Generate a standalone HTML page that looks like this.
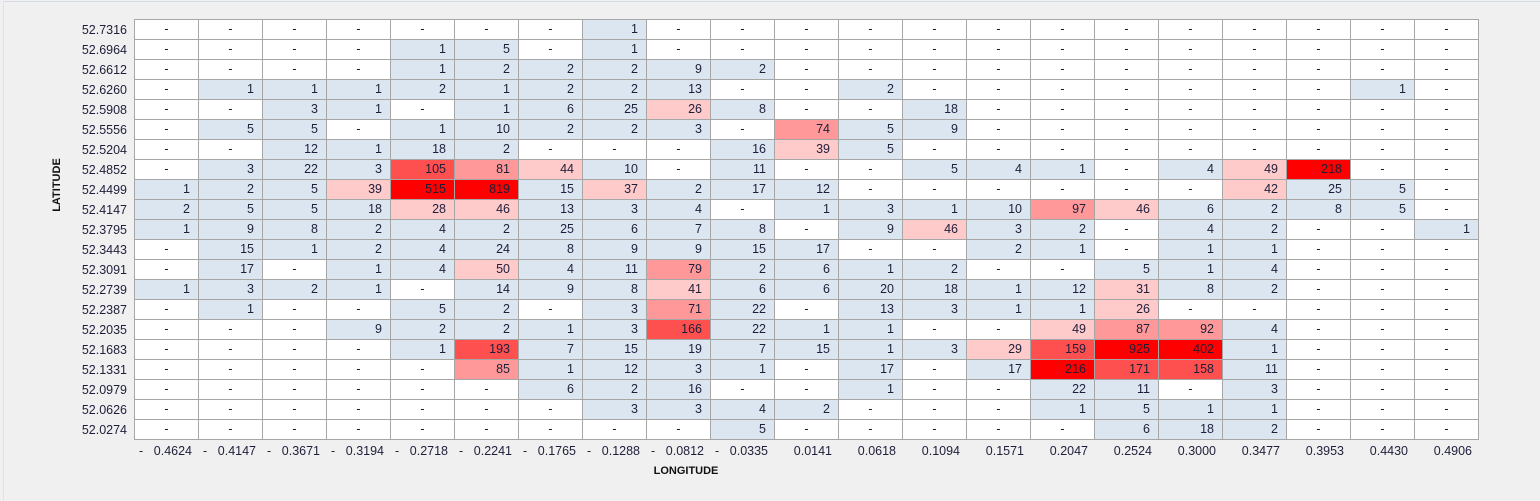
<!DOCTYPE html>
<html><head><meta charset="utf-8"><style>
html,body{margin:0;padding:0;}
body{width:1540px;height:501px;background:#f0f0f0;position:relative;overflow:hidden;font-family:"Liberation Sans",sans-serif;color:#1e1e3a;}
.frame{position:absolute;left:3px;top:1px;right:0;bottom:0;border-left:1px solid #dde2ea;border-top:1px solid #d6dce6;}
table{position:absolute;left:134px;top:19px;border-collapse:collapse;table-layout:fixed;width:1345px;}
td{width:64px;height:20px;border:1px solid #a6a6a6;font-size:12.5px;text-align:right;padding:0 8px 0 0;box-sizing:border-box;background:#fff;line-height:19px;}
td.d{text-align:center;padding:0;}
td.b{background:#dce6f1;}
td.p1{background:#ffcaca;}
td.p2{background:#ff9999;}
td.p3{background:#ff5050;}
td.p4{background:#ff0000;}
.rl{position:absolute;left:0;width:127px;text-align:right;font-size:12.5px;line-height:20px;}
.xl{position:absolute;top:443px;width:64px;font-size:12.5px;line-height:16px;}
.xl .n{position:absolute;right:7px;}
.xl .m{position:absolute;left:4px;}
.yt{position:absolute;left:57px;top:185px;transform:translate(-50%,-50%) rotate(-90deg);font-weight:bold;font-size:11px;color:#111;}
.xt{position:absolute;left:686px;top:471px;transform:translate(-50%,-50%);font-weight:bold;font-size:11px;color:#111;}
</style></head><body><div class="frame"></div>
<div id="rows"></div>
<table id="t"></table>
<div id="xls"></div>
<div class="yt">LATITUDE</div>
<div class="xt">LONGITUDE</div>
<script>
var lat=["52.7316","52.6964","52.6612","52.6260","52.5908","52.5556","52.5204","52.4852","52.4499","52.4147","52.3795","52.3443","52.3091","52.2739","52.2387","52.2035","52.1683","52.1331","52.0979","52.0626","52.0274"];
var lon=["- 0.4624","- 0.4147","- 0.3671","- 0.3194","- 0.2718","- 0.2241","- 0.1765","- 0.1288","- 0.0812","- 0.0335","0.0141","0.0618","0.1094","0.1571","0.2047","0.2524","0.3000","0.3477","0.3953","0.4430","0.4906"];
var D=[
"-,-,-,-,-,-,-,1,-,-,-,-,-,-,-,-,-,-,-,-,-",
"-,-,-,-,1,5,-,1,-,-,-,-,-,-,-,-,-,-,-,-,-",
"-,-,-,-,1,2,2,2,9,2,-,-,-,-,-,-,-,-,-,-,-",
"-,1,1,1,2,1,2,2,13,-,-,2,-,-,-,-,-,-,-,1,-",
"-,-,3,1,-,1,6,25,26,8,-,-,18,-,-,-,-,-,-,-,-",
"-,5,5,-,1,10,2,2,3,-,74,5,9,-,-,-,-,-,-,-,-",
"-,-,12,1,18,2,-,-,-,16,39,5,-,-,-,-,-,-,-,-,-",
"-,3,22,3,105,81,44,10,-,11,-,-,5,4,1,-,4,49,218,-,-",
"1,2,5,39,515,819,15,37,2,17,12,-,-,-,-,-,-,42,25,5,-",
"2,5,5,18,28,46,13,3,4,-,1,3,1,10,97,46,6,2,8,5,-",
"1,9,8,2,4,2,25,6,7,8,-,9,46,3,2,-,4,2,-,-,1",
"-,15,1,2,4,24,8,9,9,15,17,-,-,2,1,-,1,1,-,-,-",
"-,17,-,1,4,50,4,11,79,2,6,1,2,-,-,5,1,4,-,-,-",
"1,3,2,1,-,14,9,8,41,6,6,20,18,1,12,31,8,2,-,-,-",
"-,1,-,-,5,2,-,3,71,22,-,13,3,1,1,26,-,-,-,-,-",
"-,-,-,9,2,2,1,3,166,22,1,1,-,-,49,87,92,4,-,-,-",
"-,-,-,-,1,193,7,15,19,7,15,1,3,29,159,925,402,1,-,-,-",
"-,-,-,-,-,85,1,12,3,1,-,17,-,17,216,171,158,11,-,-,-",
"-,-,-,-,-,-,6,2,16,-,-,1,-,-,22,11,-,3,-,-,-",
"-,-,-,-,-,-,-,3,3,4,2,-,-,-,1,5,1,1,-,-,-",
"-,-,-,-,-,-,-,-,-,5,-,-,-,-,-,6,18,2,-,-,-"];
var h="",r="";
for(var i=0;i<21;i++){
 r+='<div class="rl" style="top:'+(20+i*20)+'px">'+lat[i]+'</div>';
 h+="<tr>";
 D[i].split(",").forEach(function(v){
  if(v=="-"){h+='<td class="d">-</td>';return;}
  var n=+v,c=n<=25?"b":n<=50?"p1":n<=100?"p2":n<=200?"p3":"p4";
  h+='<td class="'+c+'">'+v+'</td>';
 });
 h+="</tr>";
}
document.getElementById("t").innerHTML=h;
document.getElementById("rows").innerHTML=r;
var x="";
for(var j=0;j<21;j++){
 var s=lon[j],neg=s.charAt(0)=="-";
 x+='<div class="xl" style="left:'+(135+j*64)+'px">'+(neg?'<span class="m">-</span>':'')+'<span class="n">'+(neg?s.slice(2):s)+'</span></div>';
}
document.getElementById("xls").innerHTML=x;
</script>
</body></html>
